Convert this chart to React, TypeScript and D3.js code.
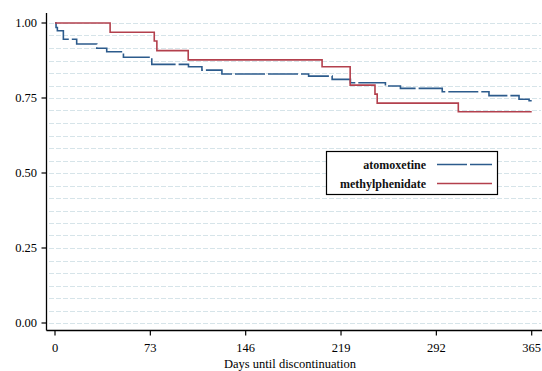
import React from "react";
import * as d3 from "d3";

// Kaplan-Meier steps (day, survival)
const atoDays = [0, 0.8, 1.8, 6.4, 16.6, 32, 39.6, 52.4, 74.1, 102.2, 112.5, 127.8, 194.2, 212.2, 226.2, 253, 264.5, 296.5, 332.3, 355.3, 363, 365];
const atoSurv = [1.0, 0.985, 0.974, 0.946, 0.93, 0.916, 0.904, 0.886, 0.862, 0.854, 0.843, 0.83, 0.823, 0.812, 0.801, 0.79, 0.782, 0.771, 0.758, 0.746, 0.741, 0.741];

const mphDays = [0, 42.2, 76, 78, 102, 204.5, 226, 245, 246.7, 308.8, 365];
const mphSurv = [1.0, 0.969, 0.94, 0.908, 0.877, 0.854, 0.793, 0.763, 0.733, 0.704, 0.704];

const xTicks = [0, 73, 146, 219, 292, 365];
const yTicks = [0, 0.25, 0.5, 0.75, 1];
const gridSteps = d3.range(0, 25).map((i) => i / 24);

const seriesNames = ["atomoxetine", "methylphenidate"];
const seriesColors = ["#2c5b8c", "#b3404d"];
const seriesDash = ["30,3", null];

const W = 542;
const H = 371;
const FONT = "'Liberation Serif', 'DejaVu Serif', serif";

export default function App() {
  const x = d3.scaleLinear().domain([0, 365]).range([55, 531.7]);
  const y = d3.scaleLinear().domain([0, 1]).range([323, 23]);

  const line = d3
    .line<[number, number]>()
    .x((d) => x(d[0]))
    .y((d) => y(d[1]))
    .curve(d3.curveStepAfter);

  const ato = atoDays.map((d, i) => [d, atoSurv[i]] as [number, number]);
  const mph = mphDays.map((d, i) => [d, mphSurv[i]] as [number, number]);
  const paths = [ato, mph];

  const axisX = 46.5;
  const axisY = 330.5;

  return (
    <svg width={W} height={H} style={{ position: "absolute", left: 0, top: 0, fontFamily: FONT }}>
      <rect x={0} y={0} width={W} height={H} fill="#fff" />
      {/* gridlines */}
      {gridSteps.map((g, i) => (
        <line
          key={"g" + i}
          x1={49}
          x2={541}
          y1={Math.round(y(g)) + 0.5}
          y2={Math.round(y(g)) + 0.5}
          stroke="#d6e4e9"
          strokeWidth={1}
          strokeDasharray="5,2"
        />
      ))}
      {/* curves */}
      {paths.map((p, i) => (
        <path
          key={"p" + i}
          d={line(p) || ""}
          fill="none"
          stroke={seriesColors[i]}
          strokeWidth={1.6}
          strokeDasharray={seriesDash[i] || undefined}
        />
      ))}
      {/* axes */}
      <line x1={axisX} x2={axisX} y1={13} y2={axisY} stroke="#000" strokeWidth={1.3} />
      <line x1={axisX} x2={542} y1={axisY} y2={axisY} stroke="#000" strokeWidth={1.3} />
      {yTicks.map((t) => (
        <g key={"yt" + t}>
          <line x1={axisX - 5} x2={axisX} y1={y(t)} y2={y(t)} stroke="#000" strokeWidth={1.2} />
          <text x={37} y={y(t)} dy="0.35em" textAnchor="end" fontSize={12.5} fill="#000" style={{ fontFamily: FONT }}>
            {t.toFixed(2)}
          </text>
        </g>
      ))}
      {xTicks.map((t) => (
        <g key={"xt" + t}>
          <line x1={x(t)} x2={x(t)} y1={axisY} y2={axisY + 5} stroke="#000" strokeWidth={1.2} />
          <text x={x(t)} y={348} dy="0.35em" textAnchor="middle" fontSize={12.5} fill="#000" style={{ fontFamily: FONT }}>
            {t}
          </text>
        </g>
      ))}
      <text x={290} y={364} dy="0.35em" textAnchor="middle" fontSize={12.5} fill="#000" style={{ fontFamily: FONT }}>
        Days until discontinuation
      </text>
      {/* legend */}
      <rect x={326.5} y={151.5} width={171} height={43} fill="#fff" stroke="#000" strokeWidth={1.2} />
      {seriesNames.map((n, i) => (
        <g key={"l" + i}>
          <text x={426} y={164.5 + i * 19} dy="0.35em" textAnchor="end" fontSize={12} fontWeight="bold" fill="#111" style={{ fontFamily: FONT }}>
            {n}
          </text>
          <line
            x1={437}
            x2={492}
            y1={164.5 + i * 19}
            y2={164.5 + i * 19}
            stroke={seriesColors[i]}
            strokeWidth={1.6}
            strokeDasharray={seriesDash[i] || undefined}
          />
        </g>
      ))}
    </svg>
  );
}
